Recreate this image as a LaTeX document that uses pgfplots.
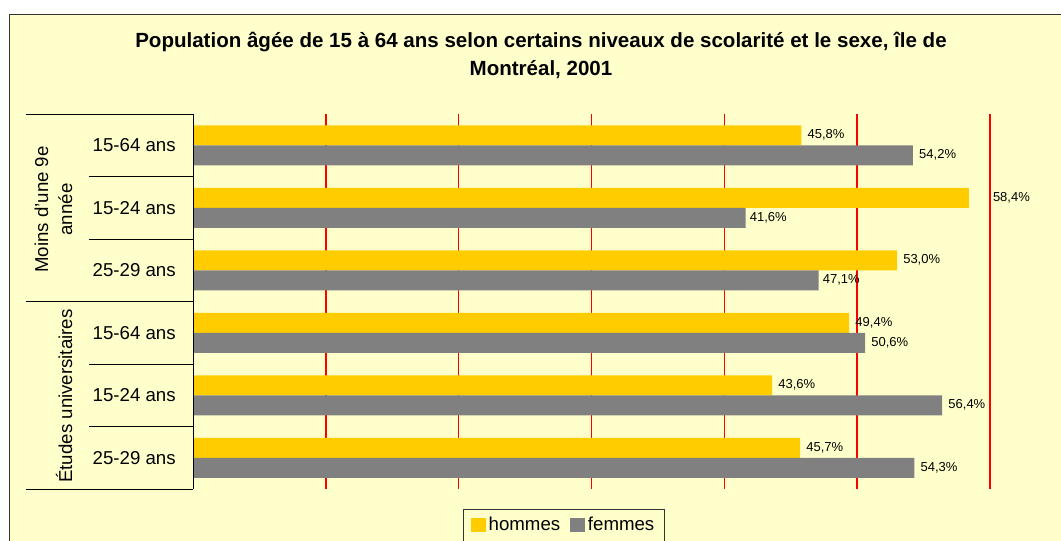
\documentclass[border=0pt]{standalone}
\usepackage{pgfplots}
\pgfplotsset{compat=1.18}
\usepackage{fontspec}
\setmainfont{Liberation Sans}
\definecolor{fond}{HTML}{FFFFCC}
\definecolor{hommes}{HTML}{FFCC00}
\definecolor{femmes}{HTML}{808080}

\begin{document}
\begin{tikzpicture}
% 1 px = 0.75pt, y measured downward from the top of the picture
\path[use as bounding box] (0,0) rectangle (795.75pt,-405pt);
\clip (0,0) rectangle (795.75pt,-405pt);
\begin{scope}[x=0.75pt,y=-0.75pt]
  \fill[white] (0,0) rectangle (1061,540);
  \fill[fond] (9,14) rectangle (1075,560);
  \draw[line width=0.75pt, black!80] (9,560) -- (9,14) -- (1075,14);
  \node[anchor=base, font=\bfseries\fontsize{15.4}{18}\selectfont] at (541,47)
    {Population âgée de 15 à 64 ans selon certains niveaux de scolarité et le sexe, île de};
  \node[anchor=base, font=\bfseries\fontsize{15.4}{18}\selectfont] at (541,75)
    {Montréal, 2001};
\end{scope}

\begin{axis}[
  at={(144.75pt,-366.75pt)}, anchor=south west,
  scale only axis, width=597.75pt, height=281.25pt,
  xmin=0, xmax=60, ymin=-0.5, ymax=5.5, y dir=reverse,
  xbar, bar width=0.32,
  axis line style={draw=none},
  xtick={10,20,30,40,50,60}, xticklabels={},
  xmajorgrids, major grid style={color=red, line width=1.2pt},
  ytick={0,1,2,3,4,5},
  yticklabels={15-64 ans,15-24 ans,25-29 ans,15-64 ans,15-24 ans,25-29 ans},
  major tick length=0pt, tick style={draw=none},
  yticklabel style={font=\fontsize{14}{16}\selectfont, inner sep=0pt, xshift=-12.75pt},
  point meta=x,
  nodes near coords={\pgfmathprintnumber[fixed,fixed zerofill,precision=1,use comma,assume math mode=true]{\pgfplotspointmeta}\%},
  visualization depends on={\thisrow{d} \as \dx},
  nodes near coords style={anchor=west, inner sep=0pt, xshift=\dx pt, font=\fontsize{9.75}{11}\selectfont, text=black},
  legend style={at={(0.4655,-0.0533)}, anchor=north, legend columns=2,
    draw=black!80, fill=fond, font=\fontsize{14}{16}\selectfont,
    inner xsep=5.5pt, inner ysep=4pt,
    /tikz/every even column/.append style={column sep=5.5pt}},
  legend image code/.code={\fill[#1] (0pt,-5.6pt) rectangle (11.25pt,5.6pt);},
  clip=false,
]
\addplot[fill=hommes, draw=none, bar shift=-0.16] table[x=v, y=c] {
c v d
0 45.8 4.5
1 58.4 18
2 53.0 4.5
3 49.4 4.5
4 43.6 4.5
5 45.7 4.5
};
\addlegendentry{hommes}
\addplot[fill=femmes, draw=none, bar shift=0.16] table[x=v, y=c] {
c v d
0 54.2 4.5
1 41.6 3
2 47.1 3
3 50.6 4.5
4 56.4 4.5
5 54.3 4.5
};
\addlegendentry{femmes}
\end{axis}

\begin{scope}[x=0.75pt,y=-0.75pt]
  \draw[line width=0.75pt] (193,114) -- (193,489);
  \draw[line width=0.75pt] (26,114) -- (193,114);
  \draw[line width=0.75pt] (89,176.5) -- (193,176.5);
  \draw[line width=0.75pt] (89,239) -- (193,239);
  \draw[line width=0.75pt] (26,301.5) -- (193,301.5);
  \draw[line width=0.75pt] (89,364) -- (193,364);
  \draw[line width=0.75pt] (89,426.5) -- (193,426.5);
  \draw[line width=0.75pt] (26,489) -- (193,489);
  \node[rotate=90, anchor=base, font=\fontsize{14}{16}\selectfont] at (48,209.5) {Moins d'une 9e};
  \node[rotate=90, anchor=base, font=\fontsize{14}{16}\selectfont] at (72,209.5) {année};
  \node[rotate=90, anchor=base, font=\fontsize{14}{16}\selectfont] at (72,396) {Études universitaires};
\end{scope}
\end{tikzpicture}
\end{document}
